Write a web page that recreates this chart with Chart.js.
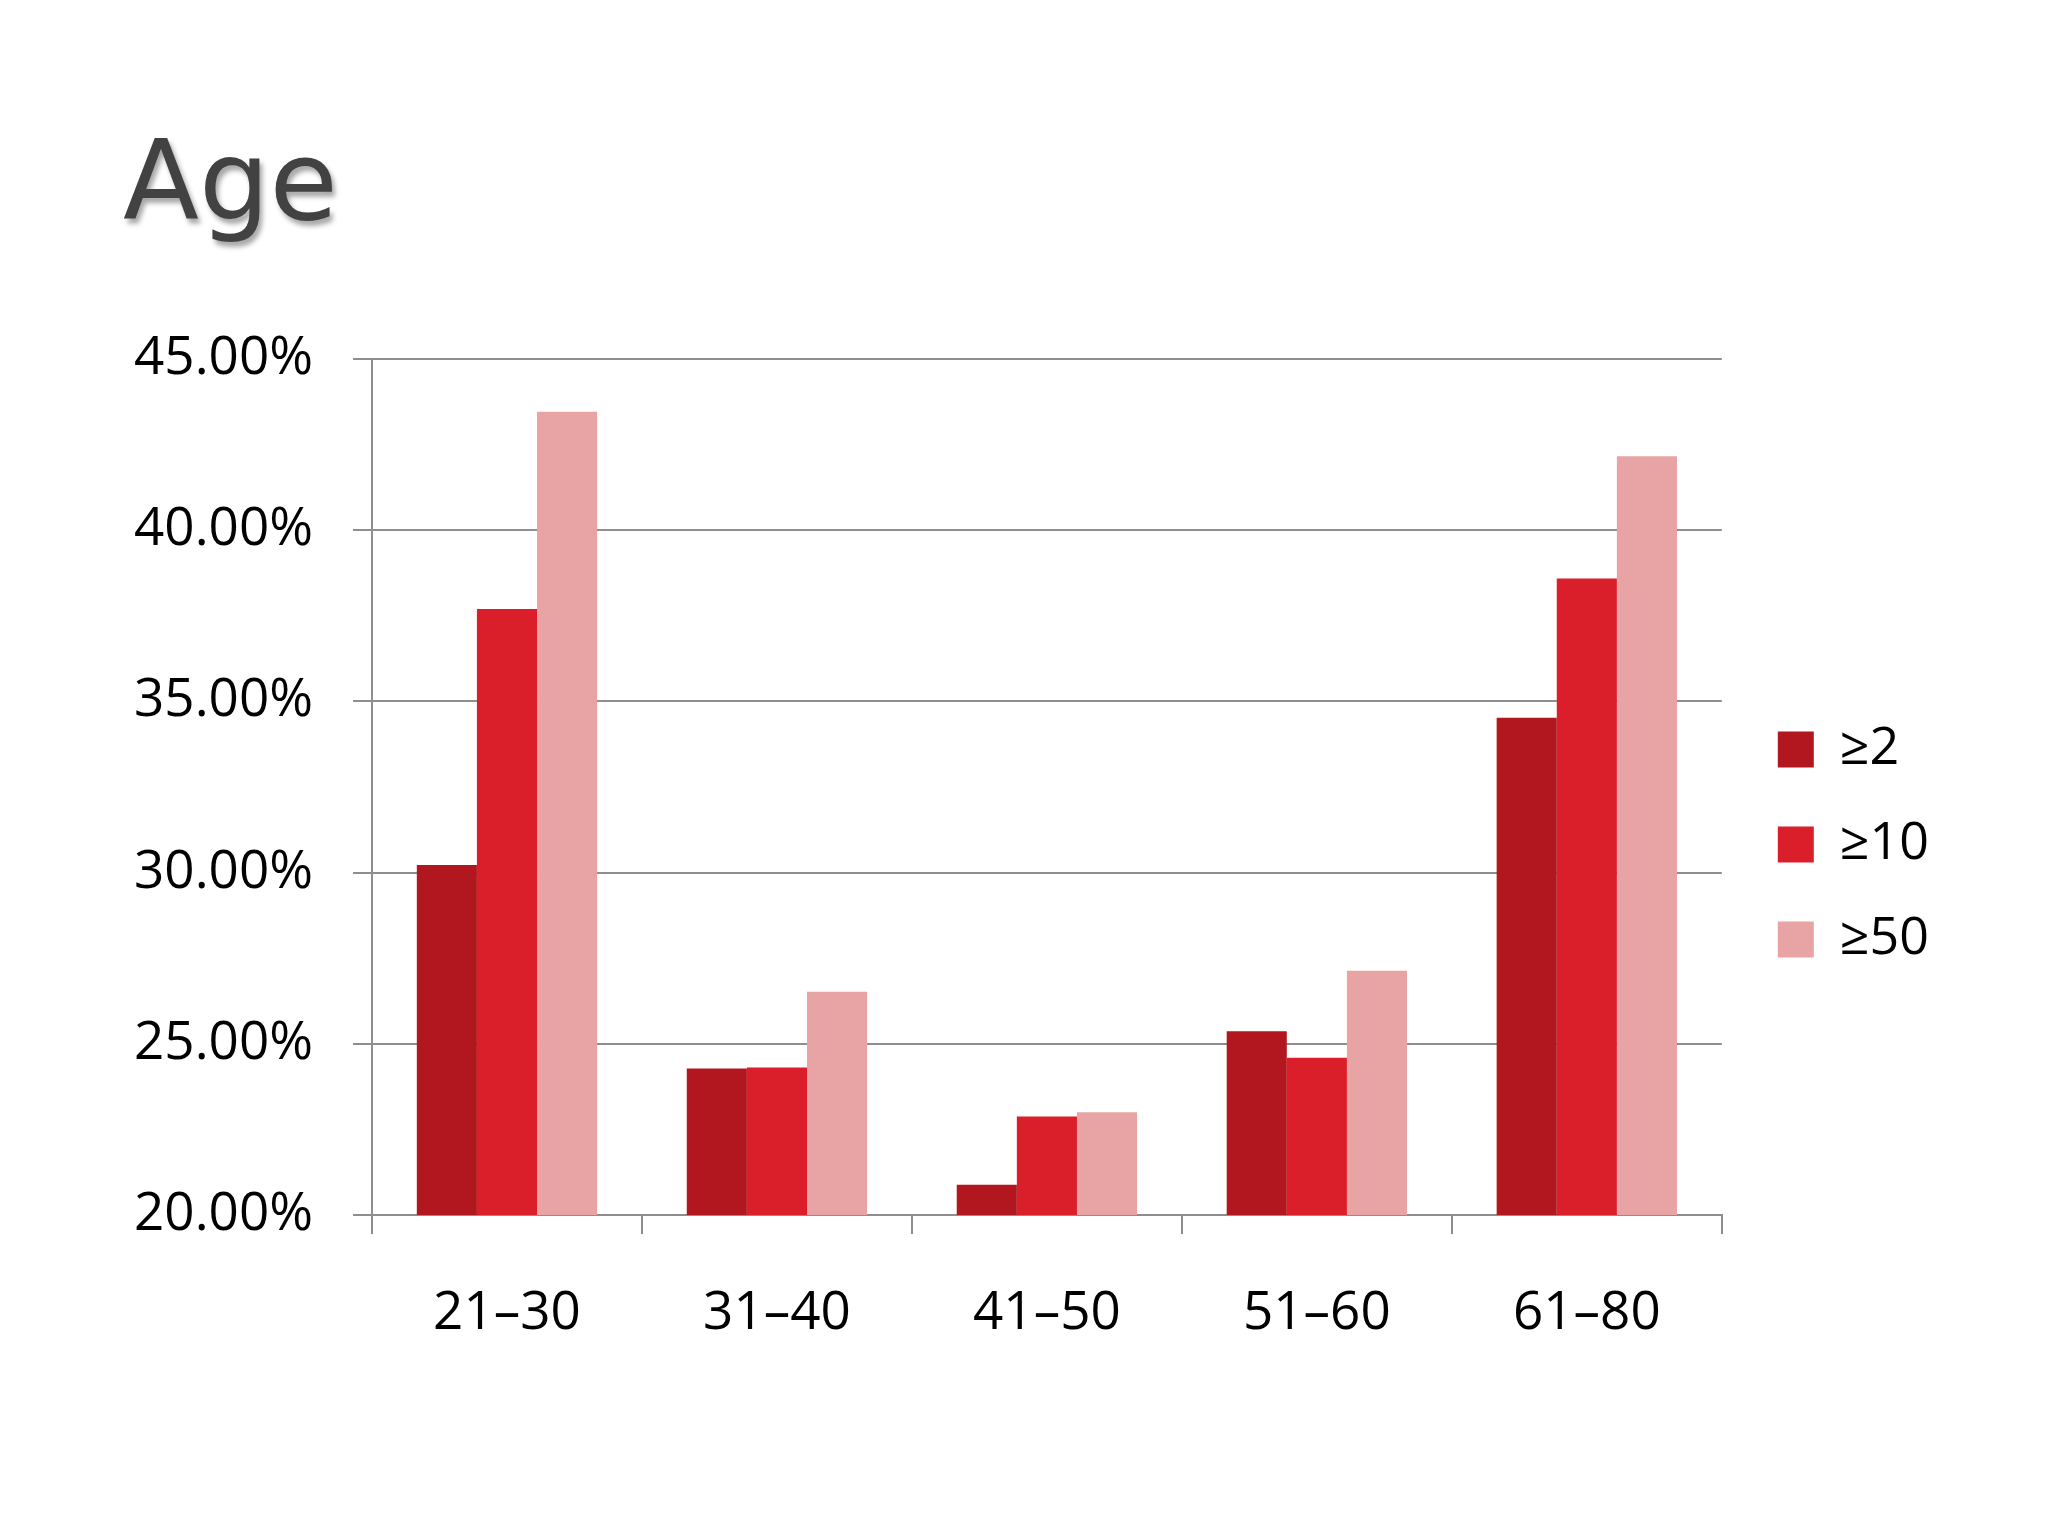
<!DOCTYPE html>
<html>
<head>
<meta charset="utf-8">
<title>Age</title>
<script src="https://cdn.jsdelivr.net/npm/chart.js@4.4.1/dist/chart.umd.min.js"></script>
<style>
  html, body { margin: 0; padding: 0; background: #fff; }
  #wrap { position: relative; width: 2048px; height: 1536px; }
  #title {
    position: absolute; left: 123px; top: 126px;
    font-family: "DejaVu Sans", sans-serif; font-size: 111px; line-height: 110px;
    color: #424242; text-shadow: 3px 5px 5px rgba(0, 0, 0, 0.35);
  }
  canvas { position: absolute; left: 0; top: 0; }
</style>
</head>
<body>
<div id="wrap">
  <div id="title">Age</div>
  <canvas id="chart" width="2048" height="1536"></canvas>
</div>
<script>
// categories and series
const ageGroups = ["21–30", "31–40", "41–50", "51–60", "61–80"];
const seriesNames = ["≥2", "≥10", "≥50"];
const over2 = [30.22, 24.28, 20.88, 25.37, 34.52];
const over10 = [37.70, 24.31, 22.88, 24.59, 38.59];
const over50 = [43.46, 26.52, 23.00, 27.13, 42.16];
const seriesColors = ["#b2171f", "#db1f2a", "#e8a3a5"];
const yMin = 20, yMax = 45, yStep = 5;

const gridColor = "#8e8e8e";
Chart.defaults.font.family = "'Open Sans', sans-serif";
Chart.defaults.color = "#000";

new Chart(document.getElementById("chart"), {
  type: "bar",
  data: {
    labels: ageGroups,
    datasets: [over2, over10, over50].map((vals, i) => ({
      label: seriesNames[i],
      data: vals,
      backgroundColor: seriesColors[i],
      borderWidth: 0,
      categoryPercentage: 0.668,
      barPercentage: 1.0
    }))
  },
  options: {
    responsive: false,
    devicePixelRatio: 1,
    animation: false,
    layout: { padding: { left: 0, top: 359, right: 109, bottom: 206 } },
    plugins: {
      title: { display: false },
      tooltip: { enabled: false },
      legend: {
        position: "right",
        align: "center",
        labels: {
          boxWidth: 36,
          boxHeight: 36,
          padding: 43,
          color: "#000",
          font: { size: 52 }
        }
      }
    },
    scales: {
      x: {
        grid: {
          offset: true,
          drawOnChartArea: false,
          drawTicks: true,
          tickLength: 19,
          color: gridColor,
          lineWidth: 2
        },
        border: { display: true, color: gridColor, width: 2 },
        ticks: { font: { size: 53 }, padding: 48, color: "#000" },
        afterFit: s => { s.height = 115; }
      },
      y: {
        min: yMin,
        max: yMax,
        ticks: {
          stepSize: yStep,
          font: { size: 53 },
          padding: 40,
          color: "#000",
          callback: v => v.toFixed(2) + "%"
        },
        grid: { color: gridColor, lineWidth: 2, tickLength: 19 },
        border: { display: true, color: gridColor, width: 2 },
        afterFit: s => { s.width = 372; }
      },
      // spacer between plot and legend
      gap: {
        type: "linear",
        position: "right",
        display: true,
        grid: { display: false },
        border: { display: false },
        ticks: { display: false },
        afterFit: s => { s.width = 13; }
      }
    }
  }
});
</script>
</body>
</html>
